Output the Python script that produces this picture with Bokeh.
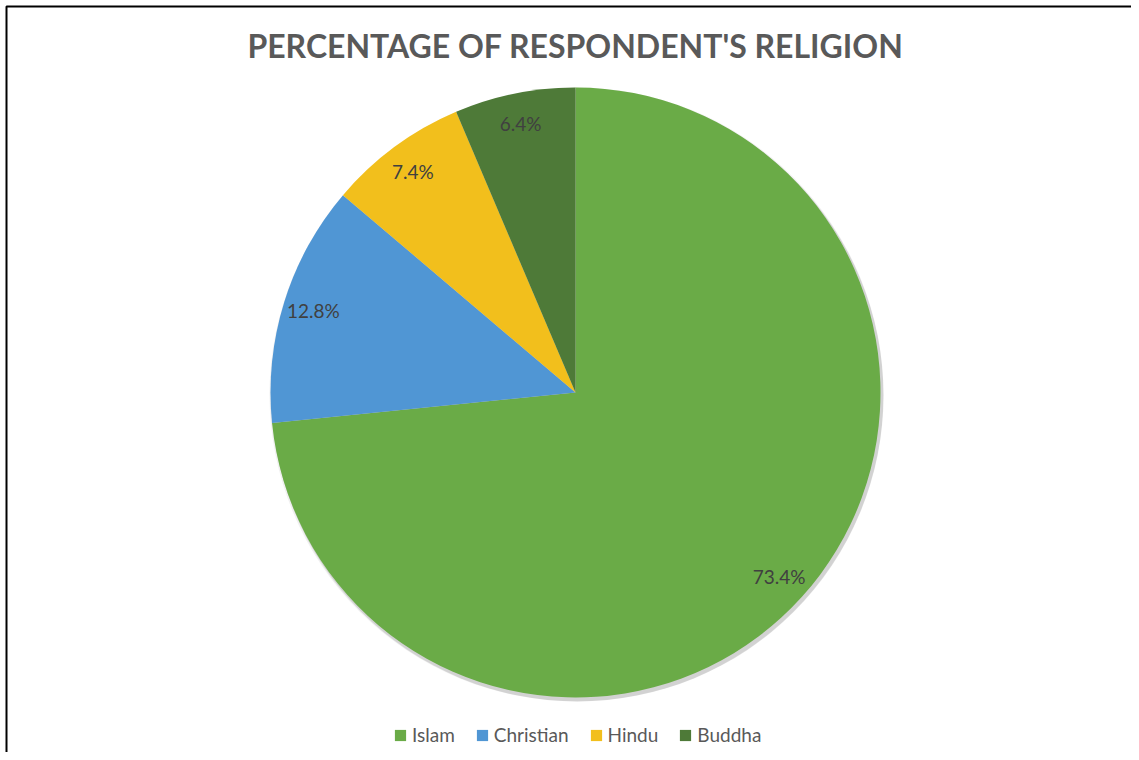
import math
from bokeh.plotting import figure
from bokeh.models import ColumnDataSource, Range1d, Label
from bokeh.core.properties import value
from bokeh.embed import file_html
from bokeh.resources import INLINE

# ---- data ----
religions = ["Islam", "Christian", "Hindu", "Buddha"]
percentages = [73.4, 12.8, 7.4, 6.4]
colors = ["#6AAB47", "#5096D4", "#F2BF1C", "#4E7A38"]
title_text = "PERCENTAGE OF RESPONDENT'S RELIGION"

# ---- layout ----
W, H = 1131, 752
cx, cy, R = 575, 360, 305
FONT = "Lato"

p = figure(width=W, height=H, output_backend="svg", toolbar_location=None,
           x_range=Range1d(0, W), y_range=Range1d(0, H), min_border=0,
           x_axis_location=None, y_axis_location=None)
p.grid.visible = False
p.outline_line_color = None
p.background_fill_color = "white"
p.border_fill_color = "white"

# border (top and left edges visible in reference crop)
p.line(x=[6, 6, W], y=[0, H - 6, H - 6], line_color="black", line_width=2)

total = sum(percentages)
starts, ends, mids = [], [], []
cum = 0.0
for v in percentages:
    a0 = math.pi / 2 - 2 * math.pi * cum / total
    cum += v
    a1 = math.pi / 2 - 2 * math.pi * cum / total
    starts.append(a0)
    ends.append(a1)
    mids.append((a0 + a1) / 2)

src = ColumnDataSource(dict(religion=religions, value=percentages, color=colors,
                            start=starts, end=ends))

# soft shadow
p.circle(x=cx + 2, y=cy - 3, radius=R + 1, fill_color="black", fill_alpha=0.12, line_color=None)
p.circle(x=cx + 1, y=cy - 2, radius=R + 2, fill_color="black", fill_alpha=0.06, line_color=None)

p.wedge(x=cx, y=cy, radius=R, start_angle="start", end_angle="end", direction="clock",
        fill_color="color", line_color=None, legend_field="religion", source=src)

lab_r = 0.9 * R
lx = [cx + lab_r * math.cos(m) for m in mids]
ly = [cy + lab_r * math.sin(m) for m in mids]
labels = [f"{v:.1f}%" for v in percentages]
p.text(x=lx, y=ly, text=labels, text_align="center", text_baseline="middle",
       text_font=value(FONT), text_font_size="19px", text_color="#404040")

p.add_layout(Label(x=cx, y=H - 45, text=title_text, text_align="center",
                   text_baseline="middle", text_font=FONT, text_font_size="32px",
                   text_font_style="bold", text_color="#595959"))

lg = p.legend[0]
lg.orientation = "horizontal"
lg.location = (393, 6)
lg.padding = 0
lg.margin = 0
lg.border_line_color = None
lg.background_fill_alpha = 0
lg.glyph_width = 14
lg.glyph_height = 14
lg.label_standoff = 5
lg.spacing = 20
lg.label_text_font = FONT
lg.label_text_font_size = "19px"
lg.label_text_color = "#595959"

open("out.html", "w").write(file_html(p, INLINE))
